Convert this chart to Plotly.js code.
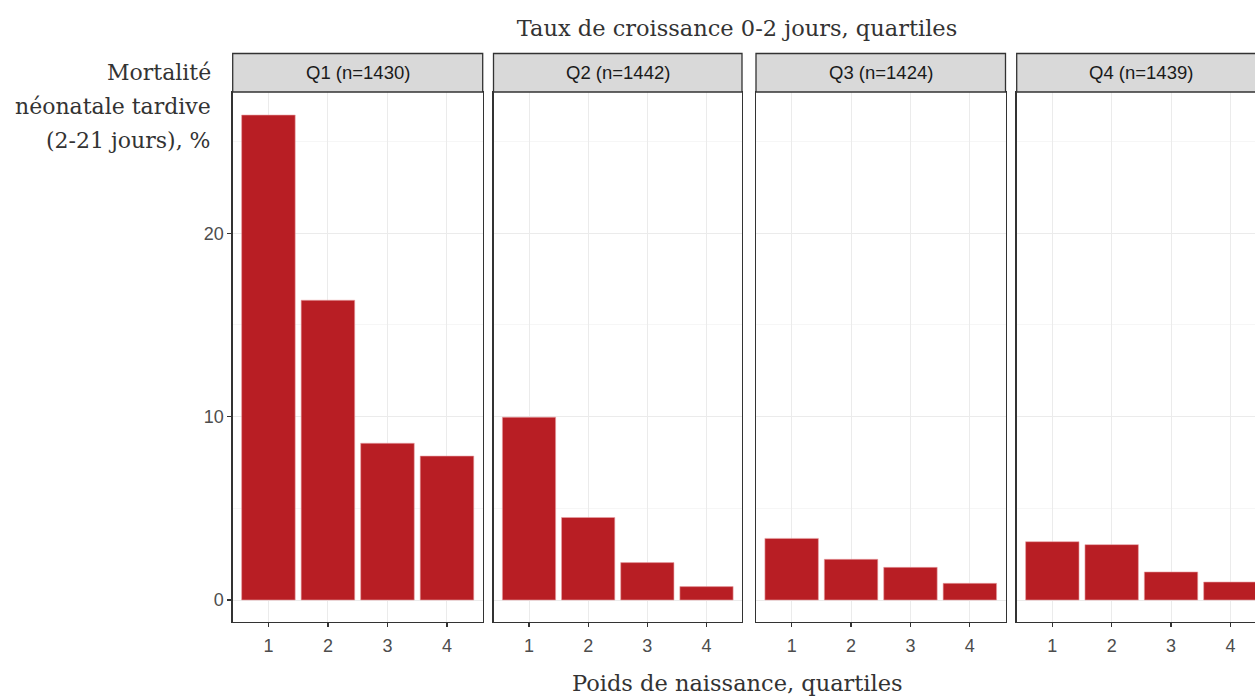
<!DOCTYPE html>
<html>
<head>
<meta charset="utf-8">
<script src="https://cdn.plot.ly/plotly-3.0.1.min.js"></script>
<style>
html,body{margin:0;padding:0;overflow:hidden;background:#fff;}
#chart{width:1270px;height:696px;}
</style>
</head>
<body>
<div id="chart"></div>
<script>
// ---- data ----
const facets = ['Q1 (n=1430)', 'Q2 (n=1442)', 'Q3 (n=1424)', 'Q4 (n=1439)'];
const birthWeightQuartiles = ['1', '2', '3', '4'];
const mortalityQ1 = [26.45, 16.35, 8.55, 7.85];
const mortalityQ2 = [9.97, 4.5, 2.04, 0.73];
const mortalityQ3 = [3.36, 2.22, 1.78, 0.91];
const mortalityQ4 = [3.18, 3.02, 1.53, 0.98];
const yTickVals = [0, 10, 20];
const mainTitle = 'Taux de croissance 0-2 jours, quartiles';
const xTitle = 'Poids de naissance, quartiles';
const yTitleLines = ['Mortalité', 'néonatale tardive', '(2-21 jours), %'];

const series = [mortalityQ1, mortalityQ2, mortalityQ3, mortalityQ4];

// ---- layout helpers (pixels) ----
const W = 1270, H = 696;
const plotTop = 92, plotBottom = 622;
const plotH = plotBottom - plotTop;
const py = px => (plotBottom - px) / plotH;
const panels = [[232.7, 482.7], [493.5, 742], [756, 1005.5], [1016.7, 1266]];
const barColor = '#B81E24';
const sans = 'Liberation Sans, Arial, sans-serif';
const serif = 'DejaVu Serif, serif';

const traces = series.map((vals, i) => ({
  type: 'bar',
  x: birthWeightQuartiles,
  y: vals,
  xaxis: i === 0 ? 'x' : 'x' + (i + 1),
  yaxis: i === 0 ? 'y' : 'y' + (i + 1),
  width: 0.9,
  marker: {color: barColor, line: {width: 0.6, color: '#e9a3a6'}},
  hoverinfo: 'x+y',
  showlegend: false
}));

const layout = {
  width: W, height: H,
  margin: {l: 0, r: 0, t: plotTop, b: H - plotBottom, pad: 0},
  paper_bgcolor: '#fff', plot_bgcolor: '#fff',
  bargap: 0,
  showlegend: false,
  title: {
    text: mainTitle,
    x: 737 / W, xref: 'paper', xanchor: 'center',
    y: 1 - 28 / H, yref: 'container', yanchor: 'middle',
    font: {family: serif, size: 22.5, color: '#333'}
  },
  shapes: [],
  annotations: []
};

const yRange = [-22 / 18.335, 508 / 18.335];

panels.forEach((p, i) => {
  const xk = i === 0 ? 'xaxis' : 'xaxis' + (i + 1);
  const yk = i === 0 ? 'yaxis' : 'yaxis' + (i + 1);
  const xn = i === 0 ? 'x' : 'x' + (i + 1);
  const yn = i === 0 ? 'y' : 'y' + (i + 1);
  layout[xk] = {
    domain: [p[0] / W, p[1] / W],
    anchor: yn,
    type: 'category',
    range: [-0.6, 3.6],
    showgrid: true, gridcolor: '#ebebeb', gridwidth: 1,
    showline: true, linecolor: '#333', linewidth: 1.3, mirror: true,
    ticks: 'outside', ticklen: 4, tickcolor: '#333', tickwidth: 1.2,
    ticklabelstandoff: 3,
    tickfont: {family: sans, size: 18, color: '#4d4d4d'},
    zeroline: false, fixedrange: true
  };
  layout[yk] = {
    domain: [0, 1],
    anchor: xn,
    range: yRange,
    tickvals: yTickVals,
    showgrid: true, gridcolor: '#ebebeb', gridwidth: 1,
    minor: {dtick: 5, tick0: 0, showgrid: true, gridcolor: '#f2f2f2', gridwidth: 0.7, ticks: ''},
    showline: true, linecolor: '#333', linewidth: 1.3, mirror: true,
    ticks: i === 0 ? 'outside' : '', ticklen: 4, tickcolor: '#333', tickwidth: 1.2,
    showticklabels: i === 0,
    tickfont: {family: sans, size: 18, color: '#4d4d4d'},
    zeroline: false, fixedrange: true
  };
  if (i > 0) layout[yk].matches = 'y';
  // strip
  layout.shapes.push({
    type: 'rect', xref: xn + ' domain', yref: 'paper',
    x0: 0, x1: 1, y0: 1, y1: py(53.5),
    fillcolor: '#d9d9d9', line: {color: '#333', width: 1.3}, layer: 'above'
  });
  layout.annotations.push({
    xref: xn + ' domain', yref: 'paper', x: 0.5, y: (1 + py(53.5)) / 2,
    xanchor: 'center', yanchor: 'middle', showarrow: false,
    text: facets[i], font: {family: sans, size: 18.5, color: '#1a1a1a'}
  });
});

// axis titles
layout.annotations.push({
  xref: 'paper', yref: 'paper', x: 737 / W, y: py(683),
  xanchor: 'center', yanchor: 'middle', showarrow: false,
  text: xTitle, font: {family: serif, size: 22.5, color: '#333'}
});
const yLinePx = [73, 106.5, 140];
yTitleLines.forEach((t, k) => {
  layout.annotations.push({
    xref: 'paper', yref: 'paper', x: 213 / W, y: py(yLinePx[k]),
    xanchor: 'right', yanchor: 'middle', showarrow: false, align: 'right',
    text: t, font: {family: serif, size: 22, color: '#333'}
  });
});

Plotly.newPlot('chart', traces, layout, {displayModeBar: false, staticPlot: true});
</script>
</body>
</html>
